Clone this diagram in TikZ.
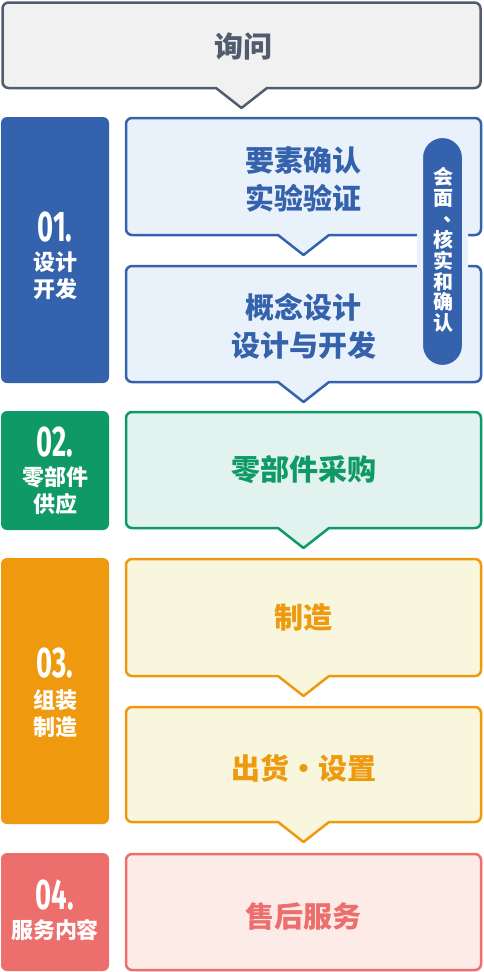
\documentclass[tikz,border=0pt]{standalone}
\usepackage{fontspec}
\usepackage{graphicx}
\newfontfamily\cjk{Noto Sans CJK SC}
\newfontfamily\numfont{Fira Sans}
\definecolor{grayD}{HTML}{515C70}
\definecolor{grayL}{HTML}{F1F1F1}
\definecolor{blueD}{HTML}{3562AD}
\definecolor{blueL}{HTML}{E9F2FB}
\definecolor{greenD}{HTML}{0E9967}
\definecolor{greenL}{HTML}{E2F3EF}
\definecolor{orangeD}{HTML}{EE990E}
\definecolor{orangeL}{HTML}{F8F6DD}
\definecolor{redD}{HTML}{EC6E6D}
\definecolor{redL}{HTML}{FDEBE8}
\tikzset{
    callbox/.style={line width=2.5pt, draw=#1D, fill=#1L, rounded corners=6pt, line join=round},
    tagbox/.style={fill=#1D, rounded corners=6pt},
    numtxt/.style={text=white, font=\numfont\bfseries\fontsize{43}{43}\selectfont},
    tagtxt/.style={text=white, font=\cjk\bfseries\fontsize{22}{27}\selectfont, align=center},
    maintxt/.style={text=#1D, font=\cjk\bfseries\fontsize{29}{38}\selectfont, align=center},
    pilltxt/.style={text=white, font=\cjk\bfseries\fontsize{20}{20.9}\selectfont, align=center},
}
% colour, left, right, top, bottom
\newcommand{\callout}[5]{%
    \draw[callbox=#1] (#2,#4) -- (#3,#4) -- (#3,#5) [sharp corners]
        -- ({(#2+#3)/2+25.5},#5) -- ({(#2+#3)/2},#5+20) -- ({(#2+#3)/2-25.5},#5)
        [rounded corners=6pt] -- (#2,#5) -- cycle;}
\newcommand{\stepno}[1]{\scalebox{.64}[1]{#1}}

\begin{document}
\begin{tikzpicture}[x=1pt, y=-1pt]
    \useasboundingbox (0, 0) rectangle (483, 972);
    % enquiry
    \callout{gray}{2.5}{480.5}{2.5}{88}
    \node[maintxt=gray] (ask) at (243, 46) {询问};
    % 01
    \begin{scope}
        \fill[tagbox=blue] (1, 117) rectangle (109, 383);
        \node[numtxt] (n1) at (55, 227) {\stepno{01.}};
        \node[tagtxt] (t1) at (55, 275.5) {设计\\开发};
        \callout{blue}{126}{481}{118}{235}
        \node[maintxt=blue] (req) at (303.5, 179) {要素确认\\实验验证};
        \callout{blue}{126}{481}{266}{382}
        \node[maintxt=blue] (dev) at (303.5, 326.5) {概念设计\\设计与开发};
        \draw[fill=blueD, draw=blueL, line width=6pt, rounded corners=22.5pt] (420, 135) rectangle (465, 368);
        \node[pilltxt] (meet) at (443, 250) {会\\面\\\makebox[1em][l]{\hspace{.53em}\raisebox{.22em}{、}}\\核\\实\\和\\确\\认};
    \end{scope}
    % 02
    \begin{scope}
        \fill[tagbox=green] (1, 411) rectangle (109, 530);
        \node[numtxt] (n2) at (55, 442) {\stepno{02.}};
        \node[tagtxt] (t2) at (55, 490.5) {零部件\\供应};
        \callout{green}{126}{481}{412}{528}
        \node[maintxt=green] (buy) at (303.5, 470) {零部件采购};
    \end{scope}
    % 03
    \begin{scope}
        \fill[tagbox=orange] (1, 558) rectangle (109, 824);
        \node[numtxt] (n3) at (55, 663) {\stepno{03.}};
        \node[tagtxt] (t3) at (55, 714) {组装\\制造};
        \callout{orange}{126}{481}{559}{676}
        \node[maintxt=orange] (make) at (303.5, 618) {制造};
        \callout{orange}{126}{481}{707}{822}
        \node[maintxt=orange] (ship) at (303.5, 768) {出货・设置};
    \end{scope}
    % 04
    \begin{scope}
        \fill[tagbox=red] (1, 853) rectangle (109, 971);
        \node[numtxt] (n4) at (55, 895) {\stepno{04.}};
        \node[tagtxt] (t4) at (55, 930) {服务内容};
        \draw[callbox=red] (126, 854) rectangle (481, 970);
        \node[maintxt=red] (care) at (303.5, 916) {售后服务};
    \end{scope}
\end{tikzpicture}
\end{document}
